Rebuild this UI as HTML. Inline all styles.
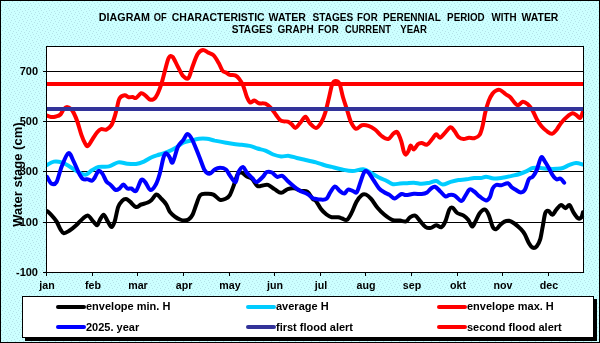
<!DOCTYPE html>
<html><head><meta charset="utf-8"><style>
html,body{margin:0;padding:0;background:#ccffff;}
svg{display:block;will-change:transform;}
</style></head><body>
<svg width="600" height="343" viewBox="0 0 600 343">
<defs><pattern id="conf" width="8" height="8" patternUnits="userSpaceOnUse"><rect width="8" height="8" fill="#ccffff"/><g fill="#b4e2e8"><rect x="0" y="0" width="1" height="1"/><rect x="4" y="1" width="1" height="1"/><rect x="1" y="2" width="1" height="1"/><rect x="6" y="3" width="1" height="1"/><rect x="3" y="4" width="1" height="1"/><rect x="7" y="5" width="1" height="1"/><rect x="2" y="6" width="1" height="1"/><rect x="5" y="7" width="1" height="1"/></g></pattern><clipPath id="pc"><rect x="47" y="47" width="536" height="225"/></clipPath></defs>
<rect x="0" y="0" width="600" height="343" fill="url(#conf)"/>
<rect x="0" y="0" width="600" height="1" fill="#000"/>
<rect x="0" y="342" width="600" height="1" fill="#000"/>
<rect x="0" y="0" width="1" height="343" fill="#000"/>
<rect x="599" y="0" width="1" height="343" fill="#000"/>
<rect x="46" y="46" width="538" height="227" fill="#fff"/>
<rect x="43" y="71" width="541" height="1" fill="#000"/>
<rect x="43" y="121" width="541" height="1" fill="#000"/>
<rect x="43" y="171" width="541" height="1" fill="#000"/>
<rect x="43" y="222" width="541" height="1" fill="#000"/>
<rect x="46" y="46" width="538" height="1" fill="#000"/>
<rect x="43" y="272" width="541" height="1" fill="#000"/>
<rect x="46" y="46" width="1" height="230" fill="#000"/>
<rect x="583" y="46" width="1" height="227" fill="#000"/>
<rect x="92" y="272" width="1" height="4" fill="#000"/>
<rect x="137" y="272" width="1" height="4" fill="#000"/>
<rect x="183" y="272" width="1" height="4" fill="#000"/>
<rect x="229" y="272" width="1" height="4" fill="#000"/>
<rect x="274" y="272" width="1" height="4" fill="#000"/>
<rect x="320" y="272" width="1" height="4" fill="#000"/>
<rect x="365" y="272" width="1" height="4" fill="#000"/>
<rect x="411" y="272" width="1" height="4" fill="#000"/>
<rect x="457" y="272" width="1" height="4" fill="#000"/>
<rect x="502" y="272" width="1" height="4" fill="#000"/>
<rect x="548" y="272" width="1" height="4" fill="#000"/>
<g clip-path="url(#pc)" fill="none" stroke-linejoin="round" stroke-linecap="round">
<path d="M47.0,211.0 C47.7,211.6 49.6,213.1 51.2,214.8 C52.8,216.5 55.0,219.0 56.5,221.4 C58.0,223.8 59.2,227.2 60.4,229.2 C61.6,231.2 62.3,233.0 63.8,233.2 C65.3,233.4 67.5,231.8 69.6,230.5 C71.7,229.2 74.0,227.3 76.2,225.3 C78.4,223.3 80.7,220.3 82.7,218.7 C84.7,217.1 86.2,215.1 88.0,215.6 C89.8,216.1 91.7,219.8 93.2,221.4 C94.7,223.0 96.1,225.5 97.2,225.3 C98.3,225.1 98.7,221.8 99.8,220.0 C100.9,218.2 102.4,214.6 103.7,214.8 C105.0,215.0 106.4,219.4 107.7,221.4 C109.0,223.4 110.4,227.1 111.6,227.1 C112.8,227.1 113.6,224.8 114.7,221.4 C115.8,218.0 117.0,210.3 118.2,206.9 C119.4,203.5 120.8,202.2 122.1,200.9 C123.4,199.6 124.7,198.9 126.0,199.0 C127.3,199.1 128.3,200.4 130.0,201.7 C131.7,203.0 134.1,206.5 136.0,207.0 C137.9,207.5 139.2,205.2 141.2,204.5 C143.2,203.8 146.1,203.3 147.8,202.5 C149.6,201.7 150.2,201.1 151.7,199.8 C153.1,198.5 155.0,194.8 156.5,194.6 C158.0,194.3 159.3,196.7 160.9,198.3 C162.5,199.9 164.7,202.0 166.2,204.3 C167.7,206.6 168.6,210.1 170.1,212.2 C171.6,214.3 173.8,215.8 175.4,217.0 C177.1,218.2 178.6,218.9 180.0,219.5 C181.4,220.1 182.6,220.5 184.0,220.5 C185.4,220.5 187.1,220.4 188.5,219.5 C189.9,218.6 191.1,217.5 192.4,215.0 C193.7,212.5 195.1,207.6 196.4,204.3 C197.7,201.0 198.6,196.8 200.3,195.1 C202.0,193.3 204.6,193.9 206.8,193.8 C209.0,193.7 211.2,193.6 213.4,194.6 C215.6,195.6 217.9,199.2 220.0,199.8 C222.1,200.5 224.3,199.3 226.0,198.5 C227.7,197.7 228.6,197.2 229.9,194.9 C231.2,192.7 232.6,188.5 233.9,185.0 C235.2,181.5 236.5,176.1 237.8,174.0 C239.1,171.9 240.2,172.2 241.7,172.6 C243.2,173.0 245.2,175.4 247.0,176.5 C248.8,177.6 250.4,177.5 252.2,179.1 C253.9,180.7 255.8,184.9 257.5,186.0 C259.2,187.1 260.9,185.7 262.7,185.5 C264.4,185.3 266.0,184.3 268.0,184.9 C270.0,185.5 272.3,187.8 274.5,189.1 C276.7,190.4 278.9,192.8 281.1,192.8 C283.3,192.8 285.5,189.8 287.7,189.1 C289.9,188.3 292.0,188.0 294.2,188.3 C296.4,188.6 298.6,190.3 300.8,190.9 C303.0,191.5 305.3,190.4 307.3,191.7 C309.3,193.0 311.2,197.2 312.6,198.8 C314.1,200.4 314.6,199.2 316.0,201.0 C317.4,202.8 319.4,207.1 321.2,209.3 C322.9,211.6 324.8,213.2 326.5,214.5 C328.2,215.8 329.7,216.8 331.7,217.2 C333.7,217.6 336.6,217.0 338.3,217.2 C340.1,217.4 340.8,218.1 342.2,218.5 C343.6,218.9 345.5,220.7 347.0,219.8 C348.5,218.9 349.8,216.3 351.4,213.2 C353.0,210.1 354.9,204.4 356.7,201.4 C358.4,198.4 360.4,196.2 361.9,195.0 C363.4,193.8 364.4,193.9 365.9,194.5 C367.4,195.1 369.1,196.6 371.1,198.8 C373.1,201.1 375.5,205.4 377.7,208.0 C379.9,210.6 381.8,212.5 384.2,214.5 C386.6,216.5 389.5,218.8 392.1,219.8 C394.7,220.8 397.7,220.3 400.0,220.6 C402.3,220.9 404.4,221.9 406.0,221.4 C407.6,220.9 408.4,218.4 409.9,217.4 C411.4,216.4 413.4,214.9 415.2,215.6 C416.9,216.3 418.6,219.5 420.4,221.4 C422.1,223.3 423.9,226.0 425.7,227.1 C427.4,228.2 429.1,228.2 430.9,227.9 C432.6,227.6 434.4,225.4 436.2,225.3 C437.9,225.2 439.9,227.8 441.4,227.1 C442.9,226.4 444.1,224.3 445.4,221.4 C446.7,218.5 448.1,211.9 449.3,209.6 C450.5,207.3 451.4,207.1 452.7,207.7 C454.0,208.3 455.4,211.7 457.2,213.0 C459.0,214.3 461.8,214.4 463.7,215.6 C465.6,216.8 467.0,218.2 468.4,220.0 C469.8,221.8 470.9,226.4 472.1,226.6 C473.3,226.8 474.3,223.6 475.5,221.4 C476.7,219.2 478.0,215.5 479.5,213.5 C481.0,211.5 483.2,209.4 484.7,209.6 C486.2,209.8 487.4,212.0 488.7,214.8 C490.0,217.6 491.4,224.2 492.6,226.6 C493.8,229.0 494.8,229.4 496.0,229.2 C497.2,229.0 498.6,226.5 499.9,225.3 C501.2,224.1 502.4,222.7 503.9,221.9 C505.4,221.2 507.4,220.5 509.1,220.8 C510.9,221.1 512.4,222.1 514.4,223.5 C516.4,224.9 519.1,227.4 520.9,229.2 C522.6,231.0 523.6,232.2 524.9,234.5 C526.2,236.8 527.5,240.7 528.8,242.9 C530.1,245.1 531.4,247.0 532.7,247.6 C534.0,248.2 535.5,247.6 536.7,246.3 C537.9,245.0 539.1,243.0 540.1,239.7 C541.1,236.4 541.8,231.0 542.7,226.6 C543.6,222.2 544.3,215.6 545.3,213.0 C546.3,210.4 547.3,210.6 548.5,210.9 C549.7,211.2 551.1,215.0 552.4,214.8 C553.7,214.6 554.9,211.2 556.4,209.6 C557.9,208.0 559.6,205.3 561.1,205.1 C562.6,204.9 564.1,208.2 565.5,208.2 C566.9,208.2 568.2,204.4 569.5,205.1 C570.8,205.8 572.0,210.0 573.4,212.2 C574.8,214.4 576.6,217.3 577.9,218.2 C579.2,219.1 580.4,218.4 581.3,217.4 C582.1,216.4 582.7,213.1 583.0,212.2" stroke="#000" stroke-width="4"/>
<path d="M47.0,165.0 C48.1,164.4 51.4,162.0 53.9,161.6 C56.4,161.2 59.1,161.6 61.7,162.4 C64.3,163.2 67.0,164.9 69.6,166.4 C72.2,167.9 74.9,170.2 77.5,171.6 C80.1,173.0 83.0,174.9 85.4,174.7 C87.8,174.5 89.7,171.6 91.9,170.3 C94.1,169.0 95.7,167.6 98.5,166.9 C101.3,166.2 105.7,167.2 109.0,166.4 C112.3,165.7 115.2,162.9 118.2,162.4 C121.2,161.9 124.3,163.4 127.3,163.7 C130.3,164.0 133.2,164.3 136.0,164.0 C138.8,163.7 141.3,162.7 143.9,161.6 C146.5,160.5 149.1,158.4 151.7,157.2 C154.3,156.0 157.0,155.4 159.6,154.5 C162.2,153.6 164.9,153.0 167.5,151.9 C170.1,150.8 172.8,149.5 175.4,148.0 C178.0,146.5 180.6,143.9 183.2,142.7 C185.8,141.5 188.5,141.2 191.1,140.6 C193.7,139.9 196.4,139.1 199.0,138.8 C201.6,138.5 204.2,138.5 206.8,138.8 C209.4,139.1 211.5,139.9 214.7,140.6 C217.9,141.2 222.8,142.1 226.0,142.7 C229.2,143.3 231.3,143.7 233.9,144.0 C236.5,144.3 239.1,144.5 241.7,144.8 C244.3,145.1 247.0,145.3 249.6,145.9 C252.2,146.5 254.9,147.7 257.5,148.5 C260.1,149.3 262.8,149.6 265.4,150.6 C268.0,151.6 270.6,153.5 273.2,154.5 C275.8,155.5 278.5,156.2 281.1,156.4 C283.7,156.6 286.4,155.6 289.0,155.9 C291.6,156.2 294.2,157.3 296.8,158.0 C299.4,158.7 301.5,159.1 304.7,159.8 C307.9,160.5 312.8,161.5 316.0,162.4 C319.2,163.3 321.3,164.2 323.9,165.0 C326.5,165.8 328.6,166.2 331.7,166.9 C334.8,167.7 338.7,168.8 342.2,169.5 C345.7,170.2 349.2,171.1 352.7,171.0 C356.2,170.9 360.1,168.9 363.2,169.2 C366.3,169.5 368.5,171.6 371.1,173.0 C373.7,174.4 376.4,176.2 379.0,177.5 C381.6,178.8 384.5,179.9 386.8,181.0 C389.1,182.1 390.8,183.8 393.0,184.2 C395.2,184.6 397.8,183.7 400.0,183.5 C402.2,183.3 403.7,183.4 406.0,183.3 C408.3,183.2 411.3,182.6 413.9,182.7 C416.5,182.8 419.1,183.8 421.7,183.8 C424.3,183.8 427.2,183.1 429.6,182.7 C432.0,182.2 434.0,180.8 436.2,181.1 C438.4,181.4 440.3,184.4 442.7,184.5 C445.1,184.6 448.0,182.6 450.6,181.9 C453.2,181.2 455.9,180.5 458.5,180.1 C461.1,179.7 463.8,179.7 466.4,179.3 C469.0,179.0 471.8,178.2 474.2,178.0 C476.6,177.8 478.8,178.2 480.8,178.0 C482.8,177.8 484.2,176.7 486.0,176.7 C487.8,176.7 489.6,177.7 491.3,178.0 C493.0,178.3 493.9,178.6 496.0,178.5 C498.1,178.4 501.3,177.9 503.9,177.5 C506.5,177.1 509.1,176.5 511.7,175.9 C514.3,175.3 517.2,174.8 519.6,174.0 C522.0,173.2 524.0,172.4 526.2,171.4 C528.4,170.4 530.3,168.6 532.7,168.0 C535.1,167.4 538.0,167.9 540.6,168.0 C543.2,168.1 545.9,168.7 548.5,168.8 C551.1,168.9 554.0,168.9 556.4,168.8 C558.8,168.7 560.7,168.7 562.9,168.0 C565.1,167.3 567.3,165.7 569.5,164.9 C571.7,164.1 573.8,163.1 576.0,163.0 C578.2,162.9 581.4,164.2 582.5,164.5" stroke="#00ccff" stroke-width="4"/>
<path d="M47.0,115.5 C47.7,115.8 49.5,116.8 51.0,117.0 C52.5,117.2 54.4,116.9 56.0,116.5 C57.6,116.1 59.1,115.8 60.4,114.5 C61.7,113.2 62.7,110.2 63.8,109.0 C64.9,107.8 65.8,107.0 67.0,107.0 C68.2,107.0 69.8,107.9 71.0,109.0 C72.2,110.1 72.9,111.3 74.0,113.5 C75.1,115.7 76.3,118.4 77.5,122.0 C78.7,125.6 80.1,131.2 81.4,134.9 C82.7,138.6 84.3,142.2 85.4,144.0 C86.5,145.8 86.9,146.6 88.0,145.9 C89.1,145.2 90.4,142.4 91.9,140.1 C93.4,137.8 95.7,134.0 97.2,132.2 C98.7,130.4 99.6,129.5 101.1,129.1 C102.6,128.7 104.7,130.3 106.4,129.6 C108.2,128.9 110.2,127.1 111.6,124.9 C113.0,122.7 113.8,119.2 114.7,116.5 C115.6,113.8 116.0,111.6 116.8,108.6 C117.6,105.6 118.2,100.7 119.5,98.5 C120.8,96.3 123.2,95.5 124.7,95.3 C126.2,95.1 127.4,96.9 128.7,97.2 C130.0,97.5 131.4,96.9 132.6,97.0 C133.8,97.1 134.6,98.6 136.0,98.0 C137.4,97.4 139.7,93.7 141.2,93.2 C142.7,92.8 143.7,94.2 145.2,95.3 C146.7,96.4 148.7,99.5 150.4,99.8 C152.2,100.1 153.9,99.6 155.7,97.2 C157.4,94.8 159.4,89.8 160.9,85.4 C162.4,81.0 163.6,75.5 164.9,70.9 C166.2,66.3 167.5,60.1 168.8,57.8 C170.1,55.5 171.2,55.5 172.7,57.0 C174.2,58.5 176.2,63.8 178.0,67.0 C179.8,70.2 181.4,74.4 183.2,76.2 C184.9,78.0 187.0,79.5 188.5,78.0 C190.0,76.5 190.9,71.0 192.4,67.0 C193.9,63.0 195.9,56.8 197.7,53.9 C199.4,51.0 201.2,50.1 202.9,49.9 C204.7,49.7 206.4,51.7 208.2,52.6 C209.9,53.5 211.7,53.5 213.4,55.2 C215.2,57.0 217.2,60.5 218.7,63.1 C220.2,65.7 221.4,69.3 222.6,70.9 C223.8,72.5 224.8,71.8 226.0,72.5 C227.2,73.2 228.4,74.4 229.9,74.9 C231.4,75.4 233.7,74.8 235.2,75.4 C236.7,76.1 237.8,77.1 239.1,78.8 C240.4,80.5 241.8,82.3 243.1,85.4 C244.4,88.5 245.8,94.4 247.0,97.2 C248.2,100.0 248.9,101.8 250.1,102.4 C251.3,103.0 252.9,100.5 254.3,100.6 C255.8,100.7 257.0,102.7 258.8,103.2 C260.6,103.7 263.4,103.0 265.4,103.7 C267.4,104.5 268.9,105.9 270.6,107.7 C272.4,109.5 274.1,112.5 275.9,114.7 C277.6,116.9 279.1,119.7 281.1,120.8 C283.1,121.9 285.9,121.0 287.7,121.6 C289.4,122.2 290.3,123.2 291.6,124.2 C292.9,125.2 294.0,128.2 295.5,127.9 C297.0,127.6 299.1,123.9 300.8,122.1 C302.5,120.2 304.0,116.6 305.5,116.8 C307.0,117.0 308.2,121.6 310.0,123.4 C311.8,125.2 314.1,128.1 316.0,127.9 C317.9,127.8 319.7,125.0 321.2,122.5 C322.7,120.0 323.9,117.1 325.2,112.9 C326.5,108.7 327.9,102.0 329.1,97.2 C330.3,92.4 331.2,86.7 332.3,84.0 C333.4,81.3 334.5,81.0 335.7,81.0 C336.9,81.0 338.4,81.3 339.6,84.0 C340.8,86.7 341.7,92.8 343.0,97.2 C344.3,101.6 345.9,106.2 347.2,110.3 C348.5,114.4 349.5,119.0 351.0,122.1 C352.5,125.2 354.2,128.3 356.0,128.8 C357.8,129.3 359.8,125.7 361.9,125.2 C364.0,124.7 366.3,125.1 368.5,125.8 C370.7,126.5 372.8,127.8 375.0,129.5 C377.2,131.2 379.4,134.4 381.6,136.0 C383.8,137.6 386.2,139.4 388.2,139.0 C390.2,138.6 391.9,134.7 393.4,133.6 C394.9,132.5 396.0,130.9 397.3,132.2 C398.6,133.5 400.2,138.1 401.3,141.4 C402.4,144.7 403.1,149.7 403.9,151.9 C404.7,154.1 405.2,154.8 406.0,154.6 C406.8,154.4 407.8,152.3 408.6,150.8 C409.4,149.3 409.8,145.7 410.7,145.5 C411.6,145.3 412.7,149.7 413.9,149.5 C415.1,149.3 416.5,145.3 417.8,144.2 C419.1,143.1 420.2,142.8 421.7,142.9 C423.2,143.0 425.2,145.3 427.0,144.7 C428.8,144.0 430.7,140.7 432.2,139.0 C433.7,137.3 434.9,134.5 436.2,134.3 C437.5,134.1 438.6,138.0 440.1,137.7 C441.6,137.4 443.6,134.2 445.4,132.4 C447.1,130.7 449.1,127.4 450.6,127.2 C452.1,127.0 453.2,129.5 454.5,131.1 C455.8,132.7 457.0,135.6 458.5,136.9 C460.0,138.2 461.9,138.9 463.7,139.0 C465.4,139.1 467.2,137.8 469.0,137.7 C470.8,137.6 472.4,138.6 474.2,138.2 C475.9,137.8 478.1,137.1 479.5,135.0 C480.9,132.9 481.7,129.6 482.6,125.9 C483.6,122.2 484.2,116.9 485.2,112.7 C486.2,108.5 487.5,104.1 488.7,100.9 C489.9,97.7 491.4,95.2 492.6,93.5 C493.9,91.8 494.9,91.1 496.2,90.5 C497.4,89.9 498.6,89.4 500.1,90.0 C501.6,90.6 503.8,92.8 505.4,94.0 C507.0,95.2 508.4,95.5 510.0,97.0 C511.6,98.5 513.3,101.4 514.7,102.8 C516.1,104.2 516.9,105.4 518.2,105.2 C519.6,105.0 521.2,101.9 522.8,101.7 C524.3,101.5 525.9,102.7 527.5,104.0 C529.1,105.3 530.7,107.3 532.2,109.8 C533.8,112.3 535.2,116.5 536.8,119.2 C538.3,121.9 539.8,124.2 541.5,126.2 C543.2,128.2 545.5,130.2 547.3,131.5 C549.0,132.8 550.5,134.1 552.0,133.8 C553.5,133.5 555.1,131.5 556.6,129.7 C558.1,127.8 559.5,124.8 561.3,122.7 C563.0,120.6 565.2,118.4 567.1,116.8 C569.0,115.2 570.9,113.6 572.5,113.3 C574.1,113.0 575.2,114.4 576.5,115.2 C577.8,116.0 579.0,118.5 580.0,118.0 C581.0,117.5 582.3,113.2 582.8,112.2" stroke="#ff0000" stroke-width="4"/>
<path d="M47.0,176.8 C47.7,177.9 49.6,182.5 51.2,183.4 C52.8,184.3 54.8,184.9 56.5,182.1 C58.2,179.3 59.7,171.2 61.7,166.4 C63.7,161.6 66.3,154.1 68.3,153.2 C70.3,152.3 71.8,157.8 73.5,161.1 C75.2,164.4 77.3,169.9 78.8,172.9 C80.3,175.9 81.2,177.7 82.7,178.8 C84.2,179.9 86.5,179.1 88.0,179.4 C89.5,179.7 90.8,180.9 91.9,180.7 C93.0,180.5 93.4,179.6 94.5,178.0 C95.6,176.4 97.2,171.7 98.5,171.0 C99.8,170.3 101.1,171.8 102.4,173.6 C103.7,175.3 105.1,179.7 106.4,181.5 C107.7,183.3 108.8,183.2 110.3,184.6 C111.8,186.0 114.0,189.2 115.5,189.9 C117.0,190.6 118.2,189.4 119.5,188.5 C120.8,187.6 122.1,184.6 123.4,184.6 C124.7,184.6 126.0,187.8 127.3,188.5 C128.6,189.2 129.9,188.1 131.3,188.5 C132.8,188.9 134.3,192.4 136.0,191.0 C137.7,189.6 139.7,181.5 141.2,180.0 C142.7,178.5 143.7,180.4 145.2,182.1 C146.7,183.8 148.7,189.6 150.4,190.0 C152.2,190.4 154.2,187.3 155.7,184.7 C157.2,182.1 158.3,178.8 159.6,174.2 C160.9,169.6 162.5,160.7 163.6,157.2 C164.7,153.7 165.2,153.2 166.2,153.2 C167.2,153.2 168.5,155.7 169.6,157.2 C170.7,158.7 171.3,164.2 172.7,162.4 C174.1,160.7 176.2,150.4 178.0,146.7 C179.8,143.0 181.6,142.2 183.2,140.1 C184.8,138.0 186.0,134.0 187.5,134.0 C189.0,134.0 190.5,136.4 192.4,140.1 C194.3,143.8 196.9,150.9 199.0,155.9 C201.1,160.9 202.9,167.3 204.7,170.3 C206.4,173.3 207.8,173.8 209.5,173.7 C211.2,173.6 212.9,170.5 214.7,169.5 C216.4,168.5 218.1,167.7 220.0,167.7 C221.9,167.7 224.3,168.2 226.0,169.5 C227.7,170.8 228.3,173.4 229.9,175.5 C231.5,177.6 234.1,182.8 235.5,182.2 C236.9,181.6 237.2,174.5 238.5,172.0 C239.8,169.5 241.7,166.8 243.1,167.0 C244.5,167.2 245.5,171.1 247.0,172.9 C248.5,174.7 250.6,176.5 252.2,178.0 C253.8,179.5 254.8,182.2 256.5,182.0 C258.2,181.8 261.0,178.7 262.7,177.0 C264.4,175.3 265.2,172.8 266.7,172.1 C268.2,171.3 270.1,171.7 271.9,172.5 C273.6,173.3 275.4,176.2 277.2,176.8 C278.9,177.4 280.6,175.1 282.4,175.8 C284.1,176.5 285.9,179.4 287.7,181.0 C289.4,182.6 290.9,183.9 292.9,185.5 C294.9,187.1 297.1,189.1 299.5,190.5 C301.9,191.9 305.1,192.8 307.3,194.0 C309.5,195.2 311.2,197.2 312.6,198.0 C314.1,198.8 314.6,198.7 316.0,199.0 C317.4,199.3 319.4,199.6 321.2,199.6 C322.9,199.6 325.0,200.0 326.5,198.8 C328.0,197.6 329.0,194.2 330.4,192.2 C331.8,190.1 333.4,186.7 334.9,186.5 C336.4,186.3 338.0,189.7 339.6,190.9 C341.2,192.1 342.9,193.8 344.3,193.6 C345.7,193.4 346.6,190.0 348.0,189.6 C349.4,189.2 351.2,190.5 352.7,190.9 C354.1,191.3 355.4,193.7 356.7,192.2 C358.0,190.7 359.3,185.1 360.6,181.7 C361.9,178.3 363.2,173.3 364.5,171.8 C365.8,170.3 367.0,171.2 368.5,172.6 C370.0,174.0 371.9,177.8 373.7,180.4 C375.4,183.0 377.2,186.3 379.0,188.3 C380.8,190.3 382.4,191.1 384.2,192.2 C385.9,193.3 387.8,193.8 389.5,194.9 C391.2,196.0 392.7,198.7 394.7,198.5 C396.7,198.3 399.6,194.6 401.5,194.0 C403.4,193.4 403.9,195.1 406.0,195.1 C408.1,195.1 411.3,194.0 413.9,193.8 C416.5,193.6 419.5,194.2 421.7,194.0 C423.9,193.8 425.5,193.4 427.0,192.5 C428.5,191.6 429.6,189.6 430.9,188.6 C432.2,187.6 433.4,186.3 434.9,186.7 C436.4,187.1 438.4,189.6 440.1,191.2 C441.9,192.8 443.9,195.8 445.4,196.4 C446.9,197.0 447.8,195.2 449.3,195.0 C450.8,194.8 452.5,194.5 454.5,195.5 C456.5,196.5 459.4,200.8 461.1,201.0 C462.9,201.2 463.6,198.3 465.0,196.4 C466.4,194.5 468.0,190.3 469.5,189.5 C471.0,188.7 472.5,190.3 474.2,191.5 C475.9,192.7 477.5,194.9 479.5,196.4 C481.5,197.9 484.2,200.3 486.0,200.4 C487.8,200.5 488.9,199.0 490.0,197.0 C491.1,195.0 491.6,190.6 492.6,188.6 C493.6,186.6 494.6,185.6 496.0,185.0 C497.4,184.4 499.2,185.6 501.2,185.3 C503.2,185.0 506.1,182.9 507.8,183.2 C509.6,183.5 510.4,186.1 511.7,187.2 C513.0,188.3 514.2,188.9 515.7,189.8 C517.2,190.7 519.4,192.4 520.9,192.4 C522.4,192.4 523.6,192.0 524.9,189.8 C526.2,187.6 527.5,181.5 528.8,179.3 C530.1,177.1 531.4,178.2 532.7,176.7 C534.0,175.2 535.3,173.3 536.7,170.1 C538.1,166.9 539.8,159.0 541.1,157.5 C542.4,156.0 543.3,159.2 544.5,160.9 C545.7,162.6 547.2,165.2 548.5,167.5 C549.8,169.8 551.1,172.8 552.4,174.8 C553.7,176.8 555.1,178.7 556.4,179.3 C557.7,179.9 559.0,177.9 560.3,178.5 C561.6,179.1 563.6,182.0 564.2,182.7" stroke="#0000ff" stroke-width="4"/>
</g>
<rect x="47" y="107" width="536" height="4" fill="#333399"/>
<rect x="47" y="82" width="536" height="4" fill="#ff0000"/>
<text transform="translate(98.83,21) scale(0.9745,1)" font-family="Liberation Sans" font-weight="bold" font-size="11">DIAGRAM</text>
<text transform="translate(153.80,21) scale(0.8467,1)" font-family="Liberation Sans" font-weight="bold" font-size="11">OF</text>
<text transform="translate(171.80,21) scale(0.9505,1)" font-family="Liberation Sans" font-weight="bold" font-size="11">CHARACTERISTIC</text>
<text transform="translate(268.50,21) scale(0.9615,1)" font-family="Liberation Sans" font-weight="bold" font-size="11">WATER</text>
<text transform="translate(312.50,21) scale(0.9205,1)" font-family="Liberation Sans" font-weight="bold" font-size="11">STAGES</text>
<text transform="translate(357.11,21) scale(0.8864,1)" font-family="Liberation Sans" font-weight="bold" font-size="11">FOR</text>
<text transform="translate(383.09,21) scale(0.9113,1)" font-family="Liberation Sans" font-weight="bold" font-size="11">PERENNIAL</text>
<text transform="translate(447.11,21) scale(0.8902,1)" font-family="Liberation Sans" font-weight="bold" font-size="11">PERIOD</text>
<text transform="translate(491.50,21) scale(0.8929,1)" font-family="Liberation Sans" font-weight="bold" font-size="11">WITH</text>
<text transform="translate(521.50,21) scale(0.9487,1)" font-family="Liberation Sans" font-weight="bold" font-size="11">WATER</text>
<text transform="translate(231.65,33) scale(0.9227,1)" font-family="Liberation Sans" font-weight="bold" font-size="11">STAGES</text>
<text transform="translate(277.50,33) scale(0.9103,1)" font-family="Liberation Sans" font-weight="bold" font-size="11">GRAPH</text>
<text transform="translate(318.11,33) scale(0.8864,1)" font-family="Liberation Sans" font-weight="bold" font-size="11">FOR</text>
<text transform="translate(345.00,33) scale(0.8556,1)" font-family="Liberation Sans" font-weight="bold" font-size="11">CURRENT</text>
<text transform="translate(400.25,33) scale(0.8750,1)" font-family="Liberation Sans" font-weight="bold" font-size="11">YEAR</text>
<text x="38" y="75" font-family="Liberation Sans" font-weight="bold" font-size="11" text-anchor="end">700</text>
<text x="38" y="125" font-family="Liberation Sans" font-weight="bold" font-size="11" text-anchor="end">500</text>
<text x="38" y="175" font-family="Liberation Sans" font-weight="bold" font-size="11" text-anchor="end">300</text>
<text x="38" y="226" font-family="Liberation Sans" font-weight="bold" font-size="11" text-anchor="end">100</text>
<text x="38" y="276" font-family="Liberation Sans" font-weight="bold" font-size="11" text-anchor="end">-100</text>
<text x="47" y="289" font-family="Liberation Sans" font-weight="bold" font-size="10.67" text-anchor="middle">jan</text>
<text x="93" y="289" font-family="Liberation Sans" font-weight="bold" font-size="10.67" text-anchor="middle">feb</text>
<text x="138" y="289" font-family="Liberation Sans" font-weight="bold" font-size="10.67" text-anchor="middle">mar</text>
<text x="184" y="289" font-family="Liberation Sans" font-weight="bold" font-size="10.67" text-anchor="middle">apr</text>
<text x="230" y="289" font-family="Liberation Sans" font-weight="bold" font-size="10.67" text-anchor="middle">may</text>
<text x="275" y="289" font-family="Liberation Sans" font-weight="bold" font-size="10.67" text-anchor="middle">jun</text>
<text x="321" y="289" font-family="Liberation Sans" font-weight="bold" font-size="10.67" text-anchor="middle">jul</text>
<text x="366" y="289" font-family="Liberation Sans" font-weight="bold" font-size="10.67" text-anchor="middle">aug</text>
<text x="412" y="289" font-family="Liberation Sans" font-weight="bold" font-size="10.67" text-anchor="middle">sep</text>
<text x="458" y="289" font-family="Liberation Sans" font-weight="bold" font-size="10.67" text-anchor="middle">okt</text>
<text x="503" y="289" font-family="Liberation Sans" font-weight="bold" font-size="10.67" text-anchor="middle">nov</text>
<text x="549" y="289" font-family="Liberation Sans" font-weight="bold" font-size="10.67" text-anchor="middle">dec</text>
<text transform="translate(22,174.6) rotate(-90)" font-family="Liberation Sans" font-weight="bold" font-size="13" text-anchor="middle">Water stage (cm)</text>
<rect x="25" y="299" width="572" height="42" fill="#000"/>
<rect x="22" y="296" width="572" height="42" fill="#000"/>
<rect x="23" y="297" width="570" height="40" fill="#fff"/>
<rect x="56" y="305" width="30" height="4" rx="2" fill="#000"/>
<text x="86" y="309.5" font-family="Liberation Sans" font-weight="bold" font-size="11">envelope min. H</text>
<rect x="246" y="305" width="30" height="4" rx="2" fill="#00ccff"/>
<text x="276" y="309.5" font-family="Liberation Sans" font-weight="bold" font-size="11">average H</text>
<rect x="437" y="305" width="30" height="4" rx="2" fill="#ff0000"/>
<text x="467" y="309.5" font-family="Liberation Sans" font-weight="bold" font-size="11">envelope max. H</text>
<rect x="56" y="325" width="30" height="4" rx="2" fill="#0000ff"/>
<text x="86" y="330.5" font-family="Liberation Sans" font-weight="bold" font-size="11">2025. year</text>
<rect x="246" y="325" width="30" height="4" rx="2" fill="#333399"/>
<text x="276" y="330.5" font-family="Liberation Sans" font-weight="bold" font-size="11">first flood alert</text>
<rect x="437" y="325" width="30" height="4" rx="2" fill="#ff0000"/>
<text x="467" y="330.5" font-family="Liberation Sans" font-weight="bold" font-size="11">second flood alert</text>
</svg>
</body></html>
